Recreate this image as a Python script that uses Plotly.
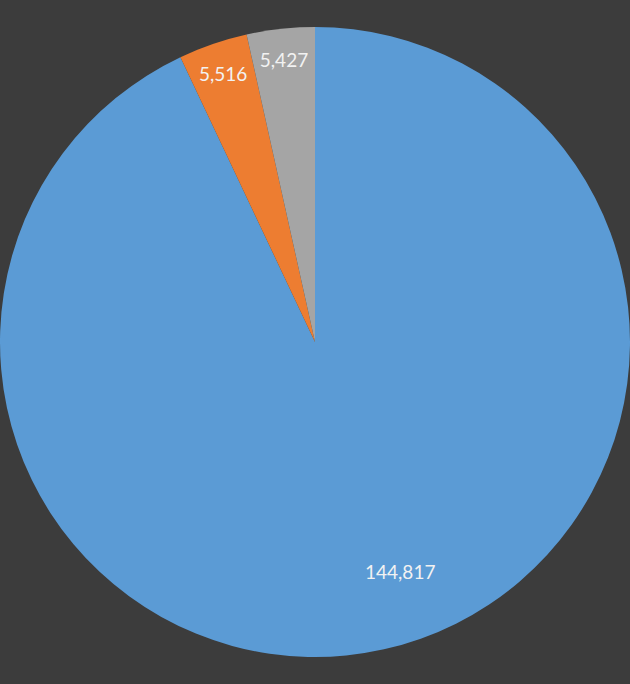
import plotly.graph_objects as go

categories = ["A", "B", "C"]
values = [144817, 5516, 5427]
colors = ["#5b9bd5", "#ed7d31", "#a5a5a5"]
text_labels = ["", "5,516", "5,427"]
big_label = "144,817"

fig = go.Figure(go.Pie(
    labels=categories,
    values=values,
    sort=False,
    direction="clockwise",
    rotation=0,
    marker=dict(colors=colors, line=dict(width=0)),
    text=text_labels,
    textinfo="text",
    textposition="inside",
    insidetextorientation="horizontal",
    textfont=dict(family="Lato, Open Sans, sans-serif", size=19, color="#f2f2f2"),
    showlegend=False,
    hoverinfo="label+value",
))
fig.add_annotation(
    x=0.635, y=0.164, xref="paper", yref="paper",
    xanchor="center", yanchor="middle",
    text=big_label, showarrow=False,
    font=dict(family="Lato, Open Sans, sans-serif", size=19, color="#f2f2f2"),
)
fig.update_layout(
    width=630, height=684,
    margin=dict(l=0, r=0, t=0, b=0),
    paper_bgcolor="#3c3c3c",
    plot_bgcolor="#3c3c3c",
)
fig.write_html(
    "out.html",
    config={"displayModeBar": False},
    post_script="document.body.style.margin='0';document.body.style.background='#3c3c3c';",
)
